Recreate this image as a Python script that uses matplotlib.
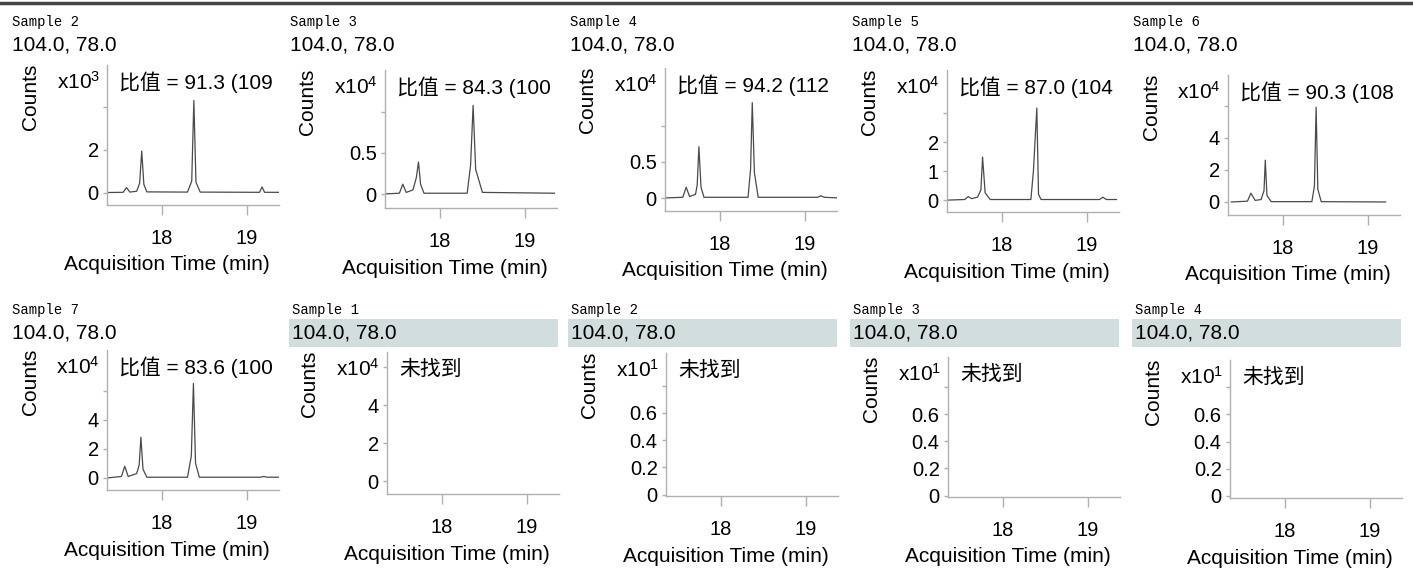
import matplotlib
matplotlib.use("Agg")
import matplotlib.pyplot as plt
from matplotlib.patches import Rectangle
from matplotlib.lines import Line2D

plt.rcParams['font.family'] = ['Liberation Sans', 'Noto Sans CJK SC', 'DejaVu Sans']
plt.rcParams['mathtext.fontset'] = 'custom'
plt.rcParams['mathtext.rm'] = 'Liberation Sans'
plt.rcParams['mathtext.it'] = 'Liberation Sans:italic'
plt.rcParams['mathtext.bf'] = 'Liberation Sans:bold'

#---------------------------------------------------------------------------------------------
# Data

sample_names = ["Sample 2", "Sample 3", "Sample 4", "Sample 5", "Sample 6",
                "Sample 7", "Sample 1", "Sample 2", "Sample 3", "Sample 4"]
mz_label = "104.0, 78.0"
exponents = [3, 4, 4, 4, 4, 4, 4, 1, 1, 1]
ratio_texts = ["比值 = 91.3 (109", "比值 = 84.3 (100", "比值 = 94.2 (112",
               "比值 = 87.0 (104", "比值 = 90.3 (108", "比值 = 83.6 (100",
               "未找到", "未找到", "未找到", "未找到"]
highlight = [False, False, False, False, False, False, True, True, True, True]

# time [min], counts [x10^n]
s2_time = [17.35, 17.54, 17.58, 17.62, 17.70, 17.735, 17.76, 17.785, 17.82, 18.30, 18.35, 18.375, 18.40, 18.45, 19.15, 19.18, 19.21, 19.38]
s2_counts = [0.02, 0.03, 0.25, 0.04, 0.08, 0.45, 1.95, 0.40, 0.05, 0.04, 0.55, 4.30, 0.50, 0.04, 0.03, 0.28, 0.03, 0.03]

s3_time = [17.32, 17.52, 17.56, 17.60, 17.68, 17.72, 17.745, 17.77, 17.81, 18.32, 18.36, 18.39, 18.42, 18.50, 19.35]
s3_counts = [0.0, 0.01, 0.12, 0.02, 0.05, 0.20, 0.39, 0.12, 0.01, 0.01, 0.35, 1.08, 0.30, 0.02, 0.01]

s4_time = [17.33, 17.56, 17.60, 17.64, 17.71, 17.73, 17.75, 17.775, 17.81, 18.33, 18.36, 18.38, 18.405, 18.45, 19.15, 19.19, 19.23, 19.41]
s4_counts = [0.0, 0.01, 0.15, 0.02, 0.05, 0.18, 0.71, 0.15, 0.01, 0.01, 0.40, 1.32, 0.35, 0.01, 0.01, 0.03, 0.01, 0.0]

s5_time = [17.36, 17.56, 17.60, 17.64, 17.71, 17.75, 17.77, 17.80, 17.86, 18.34, 18.37, 18.41, 18.43, 18.46, 19.15, 19.19, 19.23, 19.35]
s5_counts = [0.0, 0.02, 0.12, 0.05, 0.10, 0.35, 1.48, 0.25, 0.02, 0.02, 1.0, 3.17, 0.20, 0.02, 0.02, 0.10, 0.02, 0.02]

s6_time = [17.39, 17.58, 17.62, 17.67, 17.74, 17.775, 17.79, 17.81, 17.86, 18.34, 18.37, 18.39, 18.41, 18.45, 19.21]
s6_counts = [0.0, 0.05, 0.55, 0.10, 0.15, 0.70, 2.60, 0.40, 0.02, 0.02, 1.0, 5.90, 0.80, 0.02, 0.0]

s7_time = [17.35, 17.52, 17.56, 17.60, 17.70, 17.73, 17.75, 17.775, 17.82, 18.30, 18.345, 18.37, 18.395, 18.44, 19.16, 19.20, 19.24, 19.38]
s7_counts = [0.0, 0.10, 0.80, 0.10, 0.30, 0.90, 2.80, 0.60, 0.05, 0.05, 1.50, 6.50, 1.00, 0.05, 0.05, 0.10, 0.05, 0.05]

traces = [(s2_time, s2_counts), (s3_time, s3_counts), (s4_time, s4_counts),
          (s5_time, s5_counts), (s6_time, s6_counts), (s7_time, s7_counts),
          None, None, None, None]

ytick_vals = [[0, 2, 4], [0, 0.5, 1.0], [0, 0.5, 1.0], [0, 1, 2, 3], [0, 2, 4, 6],
              [0, 2, 4, 6], [0, 2, 4, 6], [0, 0.2, 0.4, 0.6, 0.8],
              [0, 0.2, 0.4, 0.6, 0.8], [0, 0.2, 0.4, 0.6, 0.8]]
ytick_lbls = [['0', '2', ''], ['0', '0.5', ''], ['0', '0.5', ''], ['0', '1', '2', ''],
              ['0', '2', '4', ''], ['0', '2', '4', ''], ['0', '2', '4', ''],
              ['0', '0.2', '0.4', '0.6', ''], ['0', '0.2', '0.4', '0.6', ''],
              ['0', '0.2', '0.4', '0.6', '']]
ylims = [(-0.56, 5.95), (-0.17, 1.51), (-0.18, 1.8), (-0.41, 4.48), (-0.81, 7.9),
         (-0.83, 8.8), (-0.68, 6.8), (-0.01, 1.04), (-0.01, 1.02), (-0.015, 1.0)]
xticks = [18, 19]

#---------------------------------------------------------------------------------------------
# Layout in pixels

W, H = 1413, 569
ax_left = [107, 385, 665, 947, 1228, 107, 387, 666, 948, 1230]
ax_top = [65, 70, 68, 70, 75, 350, 352, 353, 357, 360]
ax_bot = [205, 208, 211, 212, 215, 490, 494, 496, 497, 498]
ax_w = 172
row_title_y = [(22, 45), (310, 333)]

fig = plt.figure(figsize=(W / 100, H / 100), dpi=100)
fig.patch.set_facecolor('white')

fs = 15
spine_col = '#b0b0b0'

for i in range(10):
    row = 0 if i < 5 else 1
    l, t, b = ax_left[i], ax_top[i], ax_bot[i]
    h = b - t
    ax = fig.add_axes([l / W, 1 - b / H, ax_w / W, h / H])
    ax.set_xlim(17.35, 19.38)
    ax.set_ylim(*ylims[i])
    for s in ['top', 'right']:
        ax.spines[s].set_visible(False)
    for s in ['left', 'bottom']:
        ax.spines[s].set_color(spine_col)
        ax.spines[s].set_linewidth(1.0)
    ax.set_xticks(xticks)
    ax.set_xticklabels([str(x) for x in xticks])
    ax.set_yticks(ytick_vals[i])
    ax.set_yticklabels(ytick_lbls[i])
    ax.tick_params(axis='x', length=7, width=1, color=spine_col, pad=10, labelsize=fs - 0.5)
    ax.tick_params(axis='y', length=3, width=1, color=spine_col, pad=3, labelsize=fs - 0.5)

    if traces[i] is not None:
        tt, cc = traces[i]
        ax.plot(tt, cc, color='#4a4a4a', lw=0.9)

    # axis texts
    ax.text(0.5 - 26 / ax_w, -60 / h, "Acquisition Time (min)", transform=ax.transAxes,
            ha='center', va='center', fontsize=fs)
    ax.text(-77 / ax_w, 1 - 32 / h, "Counts", transform=ax.transAxes, rotation=90,
            ha='center', va='center', fontsize=fs)
    ax.text(-7 / ax_w, 1 - 17 / h, r"x$10^{%d}$" % exponents[i], transform=ax.transAxes,
            ha='right', va='center', fontsize=fs)
    ax.text(12 / ax_w, 1 - 17 / h, ratio_texts[i], transform=ax.transAxes,
            ha='left', va='center', fontsize=fs)

    # titles
    tx = l - 95
    sy, my = row_title_y[row]
    if highlight[i]:
        fig.patches.append(Rectangle(((tx - 3) / W, 1 - (my + 14) / H),
                                     (l + ax_w + 2 - tx) / W, 28 / H,
                                     transform=fig.transFigure, facecolor='#d2dede',
                                     edgecolor='none', zorder=0))
    fig.text(tx / W, 1 - sy / H, sample_names[i], ha='left', va='center',
             fontsize=10, family='Liberation Mono')
    fig.text(tx / W, 1 - my / H, mz_label, ha='left', va='center', fontsize=fs)

# scanned page border at top
fig.add_artist(Line2D([0, 1], [1 - 3 / H, 1 - 3 / H], transform=fig.transFigure,
                      color='#444444', lw=2.5))

fig.savefig("out.png", dpi=100)
